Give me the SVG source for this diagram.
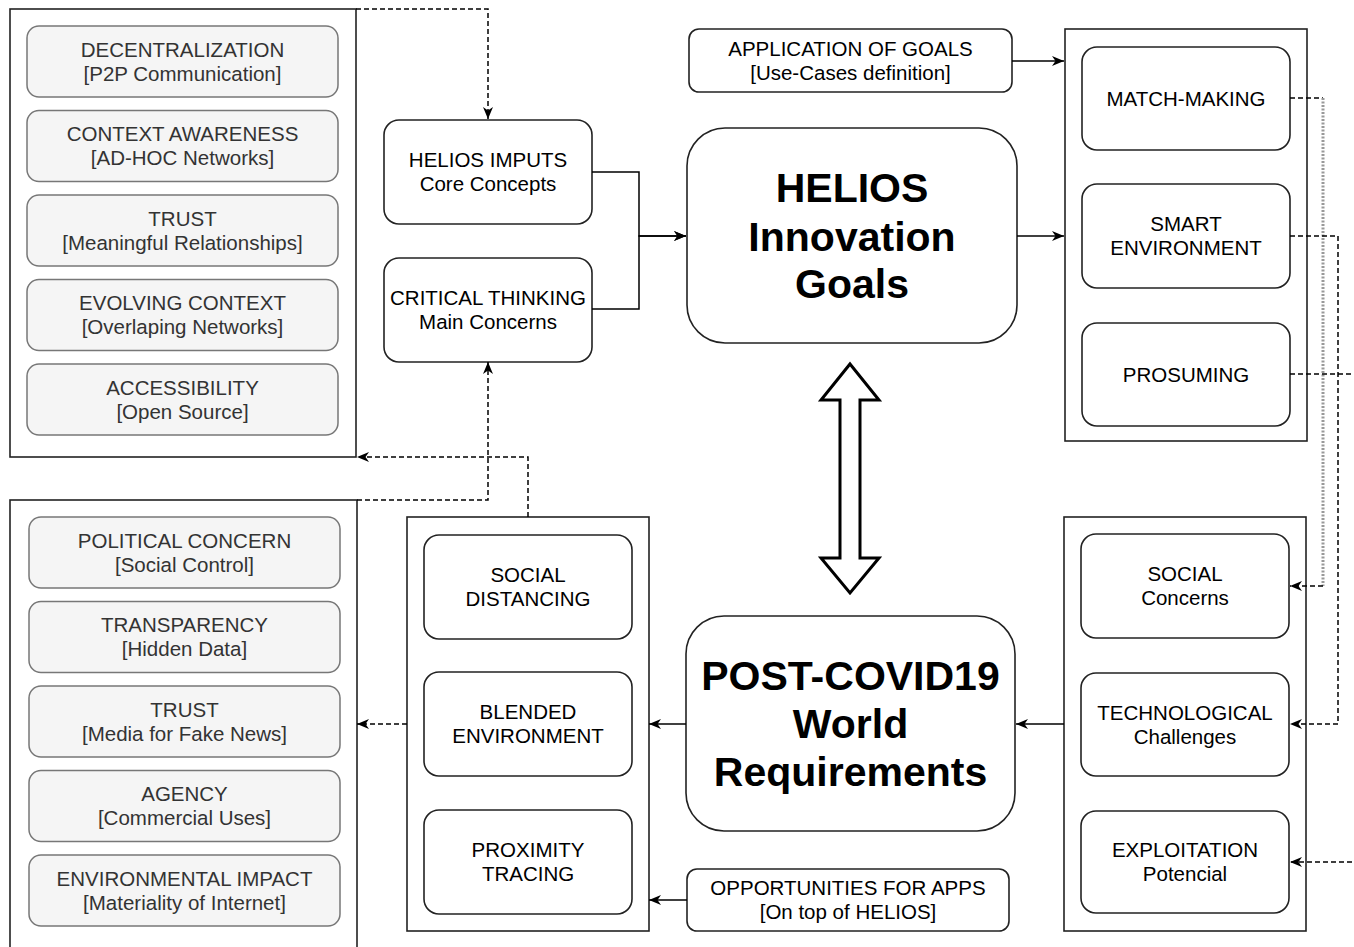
<svg xmlns="http://www.w3.org/2000/svg" width="1354" height="947" viewBox="0 0 1354 947">
<defs>
<marker id="arr" refX="12" refY="6" markerWidth="12" markerHeight="12" markerUnits="userSpaceOnUse" orient="auto" overflow="visible">
<path d="M0,1 L12,6 L0,11 L3.5,6 z" fill="#000"/>
</marker>
<style>
text{font-family:"Liberation Sans",Arial,Helvetica,sans-serif;text-anchor:middle}
.t{font-size:20.5px;fill:#000}
.tg{font-size:20.5px;fill:#333}
.big{font-size:41px;font-weight:bold;fill:#000}
.cont{fill:#fff;stroke:#222;stroke-width:1.6}
.grey{fill:#f5f5f5;stroke:#777;stroke-width:1.5}
.node{fill:#fff;stroke:#222;stroke-width:1.6}
.line{fill:none;stroke:#000;stroke-width:1.5}
.dash{fill:none;stroke:#000;stroke-width:1.5;stroke-dasharray:5 3}
.gdash{fill:none;stroke:#999;stroke-width:3;stroke-dasharray:2 1.5}
</style>
</defs>
<rect width="1354" height="947" fill="#fff"/>

<g id="principles">
<rect class="cont" x="10" y="9" width="346" height="448"/>
<g id="decentralization"><rect class="grey" x="27" y="26" width="311" height="71" rx="12"/><text class="tg" x="182.5" y="56.5">DECENTRALIZATION</text><text class="tg" x="182.5" y="80.5">[P2P Communication]</text></g>
<g id="context-awareness"><rect class="grey" x="27" y="110.5" width="311" height="71" rx="12"/><text class="tg" x="182.5" y="141">CONTEXT AWARENESS</text><text class="tg" x="182.5" y="165">[AD-HOC Networks]</text></g>
<g id="trust1"><rect class="grey" x="27" y="195" width="311" height="71" rx="12"/><text class="tg" x="182.5" y="225.5">TRUST</text><text class="tg" x="182.5" y="249.5">[Meaningful Relationships]</text></g>
<g id="evolving"><rect class="grey" x="27" y="279.5" width="311" height="71" rx="12"/><text class="tg" x="182.5" y="310">EVOLVING CONTEXT</text><text class="tg" x="182.5" y="334">[Overlaping Networks]</text></g>
<g id="accessibility"><rect class="grey" x="27" y="364" width="311" height="71" rx="12"/><text class="tg" x="182.5" y="394.5">ACCESSIBILITY</text><text class="tg" x="182.5" y="418.5">[Open Source]</text></g>
</g>

<g id="concerns">
<rect class="cont" x="10" y="500" width="347" height="470"/>
<g id="political"><rect class="grey" x="29" y="517" width="311" height="71" rx="12"/><text class="tg" x="184.5" y="547.5">POLITICAL CONCERN</text><text class="tg" x="184.5" y="571.5">[Social Control]</text></g>
<g id="transparency"><rect class="grey" x="29" y="601.5" width="311" height="71" rx="12"/><text class="tg" x="184.5" y="632">TRANSPARENCY</text><text class="tg" x="184.5" y="656">[Hidden Data]</text></g>
<g id="trust2"><rect class="grey" x="29" y="686" width="311" height="71" rx="12"/><text class="tg" x="184.5" y="716.5">TRUST</text><text class="tg" x="184.5" y="740.5">[Media for Fake News]</text></g>
<g id="agency"><rect class="grey" x="29" y="770.5" width="311" height="71" rx="12"/><text class="tg" x="184.5" y="801">AGENCY</text><text class="tg" x="184.5" y="825">[Commercial Uses]</text></g>
<g id="environmental"><rect class="grey" x="29" y="855" width="311" height="71" rx="12"/><text class="tg" x="184.5" y="885.5">ENVIRONMENTAL IMPACT</text><text class="tg" x="184.5" y="909.5">[Materiality of Internet]</text></g>
</g>

<g id="helios-imputs"><rect class="node" x="384" y="120" width="208" height="104" rx="15"/><text class="t" x="488" y="167">HELIOS IMPUTS</text><text class="t" x="488" y="191">Core Concepts</text></g>
<g id="critical-thinking"><rect class="node" x="384" y="258" width="208" height="104" rx="15"/><text class="t" x="488" y="305">CRITICAL THINKING</text><text class="t" x="488" y="329">Main Concerns</text></g>

<g id="application"><rect class="node" x="689" y="29" width="323" height="63" rx="10"/><text class="t" x="850.5" y="55.5">APPLICATION OF GOALS</text><text class="t" x="850.5" y="79.5">[Use-Cases definition]</text></g>
<g id="helios-goals"><rect class="node" x="687" y="128" width="330" height="215" rx="38"/><text class="big" x="852" y="202">HELIOS</text><text class="big" x="852" y="251">Innovation</text><text class="big" x="852" y="298">Goals</text></g>

<g id="post-covid"><rect class="node" x="686" y="616" width="329" height="215" rx="38"/><text class="big" x="850.5" y="690">POST-COVID19</text><text class="big" x="850.5" y="738">World</text><text class="big" x="850.5" y="786">Requirements</text></g>
<g id="opportunities"><rect class="node" x="687" y="869" width="322" height="62" rx="10"/><text class="t" x="848" y="895">OPPORTUNITIES FOR APPS</text><text class="t" x="848" y="919">[On top of HELIOS]</text></g>

<g id="goals-group">
<rect class="cont" x="1065" y="29" width="242" height="412"/>
<g id="match-making"><rect class="node" x="1082" y="47" width="208" height="103" rx="15"/><text class="t" x="1186" y="105.5">MATCH-MAKING</text></g>
<g id="smart-env"><rect class="node" x="1082" y="184" width="208" height="104" rx="15"/><text class="t" x="1186" y="231">SMART</text><text class="t" x="1186" y="255">ENVIRONMENT</text></g>
<g id="prosuming"><rect class="node" x="1082" y="323" width="208" height="103" rx="15"/><text class="t" x="1186" y="381.5">PROSUMING</text></g>
</g>

<g id="challenges-group">
<rect class="cont" x="1064" y="517" width="242" height="414"/>
<g id="social-concerns"><rect class="node" x="1081" y="534" width="208" height="104" rx="15"/><text class="t" x="1185" y="581">SOCIAL</text><text class="t" x="1185" y="605">Concerns</text></g>
<g id="technological"><rect class="node" x="1081" y="673" width="208" height="103" rx="15"/><text class="t" x="1185" y="719.5">TECHNOLOGICAL</text><text class="t" x="1185" y="743.5">Challenges</text></g>
<g id="exploitation"><rect class="node" x="1081" y="811" width="208" height="102" rx="15"/><text class="t" x="1185" y="857">EXPLOITATION</text><text class="t" x="1185" y="881">Potencial</text></g>
</g>

<g id="requirements-group">
<rect class="cont" x="407" y="517" width="242" height="414"/>
<g id="social-distancing"><rect class="node" x="424" y="535" width="208" height="104" rx="15"/><text class="t" x="528" y="582">SOCIAL</text><text class="t" x="528" y="606">DISTANCING</text></g>
<g id="blended"><rect class="node" x="424" y="672" width="208" height="104" rx="15"/><text class="t" x="528" y="719">BLENDED</text><text class="t" x="528" y="743">ENVIRONMENT</text></g>
<g id="proximity"><rect class="node" x="424" y="810" width="208" height="104" rx="15"/><text class="t" x="528" y="857">PROXIMITY</text><text class="t" x="528" y="881">TRACING</text></g>
</g>

<g id="connectors">
<path class="dash" d="M356,9 H488 V119" marker-end="url(#arr)"/>
<path class="line" d="M592,172 H639 V236 H686" marker-end="url(#arr)"/>
<path class="line" d="M592,309 H639 V236 H686" marker-end="url(#arr)"/>
<path class="line" d="M1012,61 H1064" marker-end="url(#arr)"/>
<path class="line" d="M1017,236 H1064" marker-end="url(#arr)"/>
<path class="dash" d="M1290,98 H1323"/>
<path class="gdash" d="M1323,98 V586"/>
<path class="dash" d="M1323,586 H1290" marker-end="url(#arr)"/>
<path class="dash" d="M1290,236 H1338 V724 H1290" marker-end="url(#arr)"/>
<path class="dash" d="M1290,374 H1360"/>
<path class="dash" d="M1360,862 H1290" marker-end="url(#arr)"/>
<path class="line" d="M1064,724 H1016" marker-end="url(#arr)"/>
<path class="line" d="M686,724 H649" marker-end="url(#arr)"/>
<path class="dash" d="M407,724 H357" marker-end="url(#arr)"/>
<path class="line" d="M687,900 H649" marker-end="url(#arr)"/>
<path class="dash" d="M357,500 H488 V362" marker-end="url(#arr)"/>
<path class="dash" d="M528,517 V457 H357" marker-end="url(#arr)"/>
<polygon points="850,364 879,400 860,400 860,558 879,558 850,593 821,558 840,558 840,400 821,400" fill="#fff" stroke="#000" stroke-width="3" stroke-linejoin="miter"/>
</g>
</svg>
